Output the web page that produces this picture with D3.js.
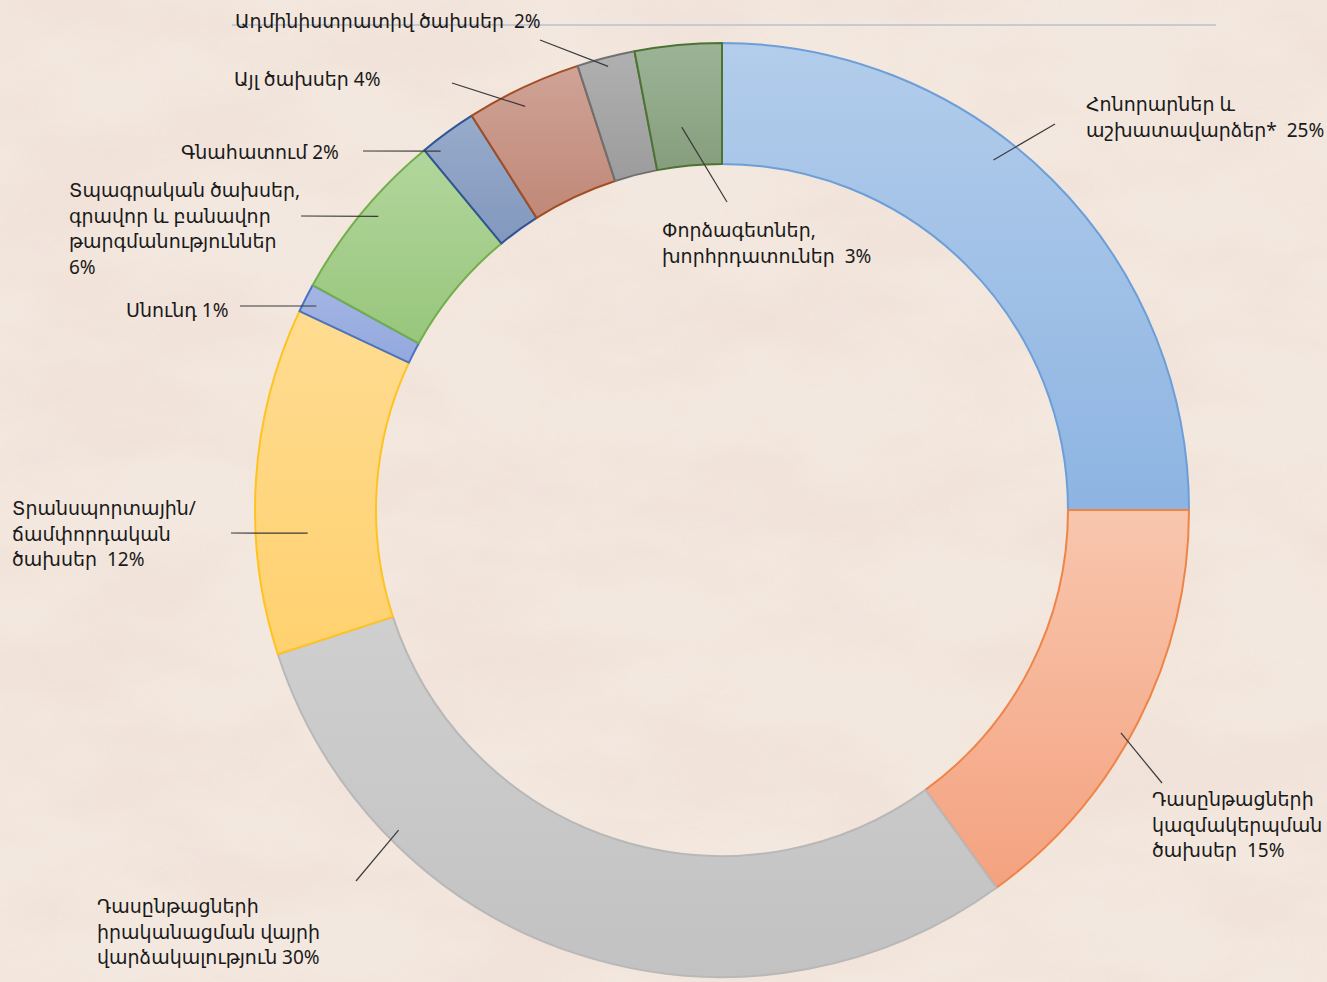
<!DOCTYPE html>
<html lang="hy">
<head>
    <meta charset="UTF-8">
    <title>Ծախսերի բաշխում</title>
    <style>
        html, body {
            width: 100%;
            height: 100%;
            overflow: hidden;
            padding: 0;
            margin: 0;
            background: #f0e3d9;
        }
        svg text {
            font-family: "Noto Sans", "DejaVu Sans", sans-serif;
            font-size: 19px;
            fill: #1a1a1a;
            white-space: pre;
        }
    </style>
</head>
<body>
    <svg id="chart" width="1327" height="982"></svg>

    <script src="https://d3js.org/d3.v7.min.js"></script>
    <script>
        // data, clockwise from the top
        const categories = [
            ['Հոնորարներ և', 'աշխատավարձեր*  25%'],
            ['Դասընթացների', 'կազմակերպման', 'ծախսեր  15%'],
            ['Դասընթացների', 'իրականացման վայրի', 'վարձակալություն 30%'],
            ['Տրանսպորտային/', 'ճամփորդական', 'ծախսեր  12%'],
            ['Սնունդ 1%'],
            ['Տպագրական ծախսեր,', 'գրավոր և բանավոր', 'թարգմանություններ', '6%'],
            ['Գնահատում 2%'],
            ['Այլ ծախսեր 4%'],
            ['Ադմինիստրատիվ ծախսեր  2%'],
            ['Փորձագետներ,', 'խորհրդատուներ  3%']
        ];
        const values = [25, 15, 30, 12, 1, 6, 2, 4, 2, 3];

        // fill: [top, bottom], stroke
        const fills = [
            ['#b3cdeb', '#8db4e2'], ['#f8c6ae', '#f4a27f'], ['#cfcfcf', '#c2c2c2'],
            ['#ffdc92', '#ffd16f'], ['#a3b5e3', '#93a8de'], ['#b2d69c', '#98c67c'],
            ['#97abcb', '#8298bd'], ['#cfa396', '#c08878'], ['#b0b0b0', '#9c9c9c'],
            ['#9db396', '#869e7d']
        ];
        const strokes = ['#6c9fd8', '#ef8447', '#b8b8b8', '#ffc31f', '#4a73c2',
                         '#72ae4a', '#2f5596', '#a24e22', '#707070', '#4b7432'];

        // label layout: text position, leader start near text, leader end (angle shift, radius)
        const labelLayout = [
            {x: 1086, y: 111, lx: 1055, ly: 124, da: -7.2, r: 443},
            {x: 1152, y: 806, lx: 1162, ly: 783, da: 2.2, r: 457},
            {x: 97, y: 913, lx: 356, ly: 881, da: 27.3, r: 455},
            {x: 12, y: 515, lx: 231, ly: 533, da: -6.8, r: 415},
            {x: 126, y: 317, lx: 240, ly: 306, da: -0.3, r: 454},
            {x: 69, y: 197, lx: 301, ly: 216, da: 0.9, r: 452},
            {x: 181, y: 159, lx: 363, ly: 151, da: -2.1, r: 456},
            {x: 234, y: 86, lx: 452, ly: 83, da: -0.8, r: 449},
            {x: 235, y: 28, lx: 540, ly: 40, da: 0, r: 458},
            {x: 662, y: 237, lx: 727, ly: 202, da: -0.6, r: 385}
        ];

        const width = 1327, height = 982;
        const cx = 722, cy = 510;
        const outerR = 467, innerR = 346;

        const svg = d3.select('#chart');
        const defs = svg.append('defs');

        // paper texture
        const filter = defs.append('filter').attr('id', 'paper')
            .attr('x', 0).attr('y', 0).attr('width', '100%').attr('height', '100%');
        filter.append('feTurbulence')
            .attr('type', 'fractalNoise')
            .attr('baseFrequency', '0.005 0.011')
            .attr('numOctaves', 4)
            .attr('seed', 7);
        filter.append('feColorMatrix')
            .attr('type', 'matrix')
            .attr('values', '0 0 0 0 0.86  0 0 0 0 0.72  0 0 0 0 0.66  1.6 0 0 0 -0.55');

        svg.append('rect').attr('width', width).attr('height', height).attr('fill', '#f3e8df');
        svg.append('rect').attr('width', width).attr('height', height)
            .attr('filter', 'url(#paper)').attr('opacity', 0.8);

        // top rule
        svg.append('line')
            .attr('x1', 232).attr('x2', 1216).attr('y1', 25).attr('y2', 25)
            .attr('stroke', '#c5cbd2').attr('stroke-width', 2);

        fills.forEach((f, i) => {
            const g = defs.append('linearGradient').attr('id', 'grad' + i)
                .attr('x1', 0).attr('y1', 0).attr('x2', 0).attr('y2', 1);
            g.append('stop').attr('offset', '0%').attr('stop-color', f[0]);
            g.append('stop').attr('offset', '100%').attr('stop-color', f[1]);
        });

        const pie = d3.pie().sort(null).value(d => d)(values);
        const arc = d3.arc().innerRadius(innerR).outerRadius(outerR);

        const chart = svg.append('g').attr('transform', `translate(${cx},${cy})`);

        chart.selectAll('path.slice')
            .data(pie)
            .enter()
            .append('path')
            .attr('class', 'slice')
            .attr('d', arc)
            .attr('fill', (d, i) => `url(#grad${i})`)
            .attr('stroke', (d, i) => strokes[i])
            .attr('stroke-width', 2)
            .attr('stroke-linejoin', 'round');

        // leader lines
        chart.selectAll('line.leader')
            .data(pie)
            .enter()
            .append('line')
            .attr('class', 'leader')
            .attr('x1', (d, i) => labelLayout[i].lx - cx)
            .attr('y1', (d, i) => labelLayout[i].ly - cy)
            .attr('x2', (d, i) => {
                const a = (d.startAngle + d.endAngle) / 2 + labelLayout[i].da * Math.PI / 180;
                return Math.sin(a) * labelLayout[i].r;
            })
            .attr('y2', (d, i) => {
                const a = (d.startAngle + d.endAngle) / 2 + labelLayout[i].da * Math.PI / 180;
                return -Math.cos(a) * labelLayout[i].r;
            })
            .attr('stroke', '#3a3a3a')
            .attr('stroke-width', 1.2);

        // labels
        const labels = svg.selectAll('text.label')
            .data(categories)
            .enter()
            .append('text')
            .attr('class', 'label')
            .attr('x', (d, i) => labelLayout[i].x)
            .attr('y', (d, i) => labelLayout[i].y);

        labels.selectAll('tspan')
            .data(d => d)
            .enter()
            .append('tspan')
            .attr('x', function () { return this.parentNode.getAttribute('x'); })
            .attr('dy', (d, j) => j === 0 ? 0 : 25.5)
            .text(d => d);
    </script>
</body>
</html>
